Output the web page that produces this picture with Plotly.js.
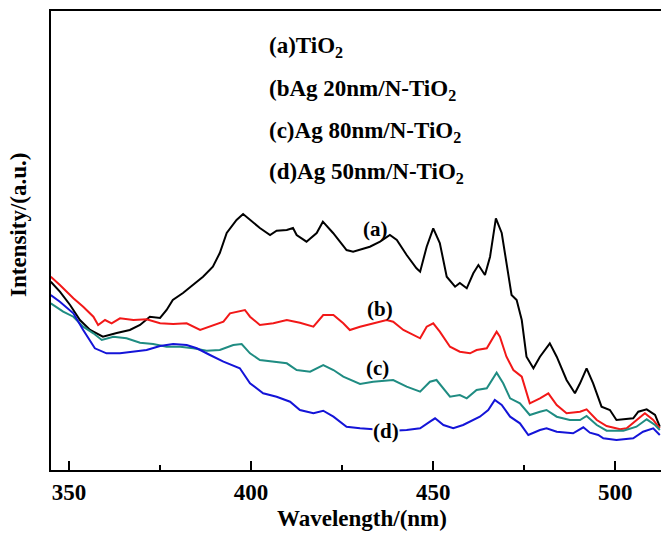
<!DOCTYPE html>
<html>
<head>
<meta charset="utf-8">
<script src="https://cdn.plot.ly/plotly-3.0.1.min.js"></script>
<style>
html,body{margin:0;padding:0;overflow:hidden;background:#fff;}
#chart{width:680px;height:533px;}
</style>
</head>
<body>
<div id="chart"></div>
<script>
// (a) TiO2
const wlA = [345.0,347.5,350.3,353.0,355.8,359.3,363.1,366.7,369.5,372.2,375.0,376.8,378.5,381.3,384.0,386.8,389.5,391.4,393.3,396.0,397.8,399.7,402.4,405.2,407.0,409.8,411.5,412.5,415.2,418.0,419.7,422.5,426.2,428.0,430.7,432.6,435.4,438.1,440.0,442.7,445.4,446.4,448.2,450.0,451.8,453.7,456.0,457.3,459.2,461.0,462.4,464.2,465.6,467.2,468.8,470.1,471.5,472.9,474.3,475.6,477.5,479.3,482.0,483.9,486.6,488.9,490.3,492.1,493.9,496.2,498.5,500.3,502.2,504.9,506.3,508.6,510.9,512.2];
const intA = [188.3,178.3,165,150,140,133.3,137,140,145,153.3,152,160,170,177,185,193.3,203.3,217,237,250,256,250,242,235,239.3,240,242,235,228.3,237,248.3,237,220,218.3,221.7,223.3,228.3,235,230,215,201.7,198.3,223.3,241.7,227,193.3,183.3,187,181.7,196.7,205,195,213.3,251.7,237,206.7,175,170,150,113.3,101.7,113.3,126.7,113.3,90,76.7,86.7,101.7,86.7,63.3,60,50,50.7,51.7,58.3,60.7,55,43.3];

// (b) Ag 20nm/N-TiO2
const wlB = [345.0,347.5,351.2,353.9,356.7,358.0,359.9,361.7,364.0,367.7,371.3,375.0,378.6,382.3,386.0,389.6,392.4,394.2,396.9,398.3,399.7,402.4,406.1,409.8,413.4,417.1,419.8,422.6,425.3,427.1,429.9,433.5,437.2,439.0,441.8,446.4,448.2,450.0,451.8,454.6,457.3,460.1,461.9,464.7,466.5,467.4,468.3,470.1,472.0,474.3,476.5,479.3,481.6,483.9,486.6,490.3,492.1,494.9,497.6,501.3,503.1,505.8,508.1,510.4,512.2];
const intB = [193.3,185,171.7,163.3,153.3,145,150,146.7,151.7,150,150.7,146.7,146,146.7,140,145,148.3,156.7,159.3,160,153.3,145,146.7,150,147.3,143.3,155,155,146.7,140,143.3,146.7,150,148.3,140,131.7,143.3,146.7,138.3,123.3,118.3,116.7,120,121.7,133.3,138.3,133.3,113.3,100,93.3,66.7,71.7,76.7,65,56.7,58.3,60.7,50,44,40.7,41.7,50,56.7,50,41.7];

// (c) Ag 80nm/N-TiO2
const wlC = [345.0,348.4,351.2,353.9,356.7,359.0,362.2,365.8,369.5,373.1,376.8,380.5,384.1,387.8,391.4,395.1,397.4,399.7,402.4,406.1,409.8,412.5,416.2,419.8,422.6,425.3,429.9,433.5,439.0,442.7,446.4,449.1,450.9,454.6,457.3,459.2,461.9,464.7,467.4,469.2,471.1,473.8,476.5,479.3,481.1,483.9,487.5,490.3,492.1,494.9,497.6,502.2,505.8,508.6,510.9,512.2];
const intC = [166.7,158.3,153.3,143.3,136.7,130,133.3,131.7,127.3,126,123.3,123.3,121.7,119.3,120,125,126,116.7,110,108.3,106.7,100,98.3,105,100,93.3,86,88.3,90,83.3,78.3,88.3,90,73.3,75,71.7,80,81.7,97.3,86.7,71.7,66.7,55,58.3,60,53.3,50,50,54,45,39.3,39.3,43.3,50.7,45,40];

// (d) Ag 50nm/N-TiO2
const wlD = [345.0,347.5,351.2,353.9,357.1,360.3,364.0,367.7,371.3,375.0,378.6,382.3,385.1,388.7,392.4,396.9,399.7,403.3,407.0,410.7,413.4,417.1,419.8,422.6,426.2,429.9,433.5,439.0,442.7,446.4,449.1,450.5,452.8,455.5,458.2,461.0,462.8,465.1,466.9,468.8,471.1,473.8,476.1,479.3,481.1,483.9,488.4,491.2,493.0,495.3,496.7,500.3,504.9,507.6,510.4,512.2];
const intD = [175,168.3,156.7,140,121.7,116.7,116.7,118.3,120,124,126,125,121.7,115,108.3,101.7,86.7,76.7,73.3,68.3,60,56.7,59.3,53.3,43.3,41.7,40.7,39.3,40,41.7,48.3,51.7,45,41.7,45,50,53.3,60,70,65,53.3,46.7,35,40,41.7,38.3,36.7,42.7,37.3,35,31.7,30,31.7,38.3,41.7,35];

const legendTexts = ["(a)TiO<sub>2</sub>", "(bAg 20nm/N-TiO<sub>2</sub>", "(c)Ag 80nm/N-TiO<sub>2</sub>", "(d)Ag 50nm/N-TiO<sub>2</sub>"];
const curveLabels = ["(a)", "(b)", "(c)", "(d)"];
const xTickVals = [350, 400, 450, 500];
const xTitle = "Wavelength/(nm)";
const yTitle = "Intensity/(a.u.)";

const colors = ["#000000", "#f21818", "#1f8c82", "#1414d8"];
const FONT = "Liberation Serif, Times New Roman, serif";

const series = [[wlA,intA],[wlB,intB],[wlC,intC],[wlD,intD]];
const traces = series.map((s,i)=>({
  x: s[0], y: s[1], type:'scatter', mode:'lines',
  line:{color:colors[i], width:2}, showlegend:false, hoverinfo:'skip'
}));

// layout geometry (pixels)
const L = 51, R = 10, T = 11, B = 63, W = 680, H = 533;
const pw = W - L - R, ph = H - T - B;
const px = x => (x - L) / pw;
const py = y => (H - B - y) / ph;

const legendY = [46.7, 90, 131.7, 173.3];
const labelPos = [[375,229],[380,309],[377,368],[386,431]];

const annotations = [];
legendTexts.forEach((t,i)=>annotations.push({
  xref:'paper', yref:'paper', x:px(267), y:py(legendY[i]), xanchor:'left', yanchor:'middle',
  text:t, showarrow:false, font:{family:FONT, size:23, color:'#000', weight:'bold'}
}));
curveLabels.forEach((t,i)=>annotations.push({
  xref:'paper', yref:'paper', x:px(labelPos[i][0]), y:py(labelPos[i][1]), xanchor:'center', yanchor:'middle',
  text:t, showarrow:false, bgcolor: i===3 ? 'rgba(255,255,255,1)' : 'rgba(0,0,0,0)', borderpad:0,
  font:{family:FONT, size:21, color:'#000', weight:'bold'}
}));
annotations.push({
  xref:'paper', yref:'paper', x:px(18), y:py(225), xanchor:'center', yanchor:'middle',
  text:yTitle, textangle:-90, showarrow:false, font:{family:FONT, size:23, color:'#000', weight:'bold'}
});
annotations.push({
  xref:'paper', yref:'paper', x:px(362), y:py(518), xanchor:'center', yanchor:'middle',
  text:xTitle, showarrow:false, font:{family:FONT, size:23, color:'#000', weight:'bold'}
});

const layout = {
  width: W, height: H,
  margin:{l:L, r:R, t:T, b:B, pad:0},
  paper_bgcolor:'#fff', plot_bgcolor:'#fff',
  font:{family:FONT, size:23, color:'#000', weight:'bold'},
  xaxis:{
    range:[345.06, 515], showgrid:false, zeroline:false,
    showline:true, linecolor:'#000', linewidth:2, mirror:true,
    ticks:'inside', ticklen:9, tickwidth:2, tickcolor:'#000',
    tickvals:xTickVals, ticktext:xTickVals.map(String),
    tickfont:{family:FONT, size:23, color:'#000', weight:'bold'},
    minor:{ticks:'inside', ticklen:5, tickwidth:2, tickcolor:'#000', tickvals:[375,425,475]}
  },
  yaxis:{
    range:[0, 459], showgrid:false, zeroline:false, showticklabels:false,
    showline:true, linecolor:'#000', linewidth:2, mirror:true, ticks:''
  },
  annotations: annotations
};

Plotly.newPlot('chart', traces, layout, {displayModeBar:false, staticPlot:true});
</script>
</body>
</html>
